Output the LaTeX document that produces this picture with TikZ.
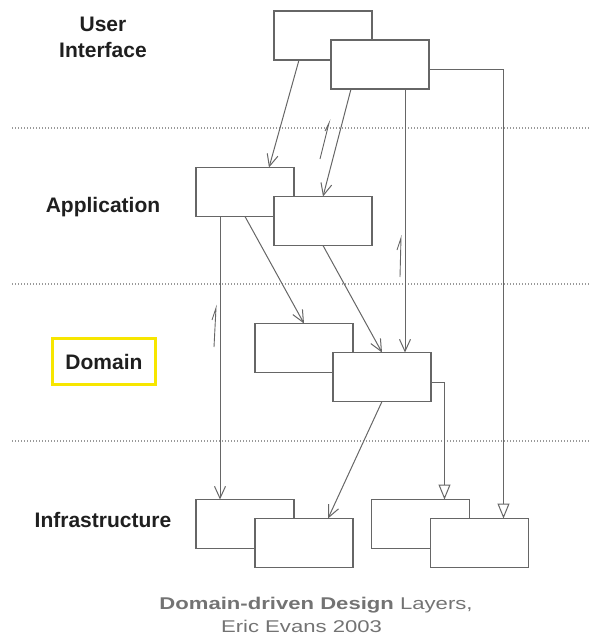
\documentclass[tikz,border=0pt]{standalone}
\usepackage{fontspec}
\setmainfont{Liberation Sans}
\usetikzlibrary{positioning,arrows.meta}
\definecolor{linegray}{HTML}{666666}
\definecolor{capgray}{HTML}{737373}
\definecolor{hiyellow}{HTML}{F7E600}

\tikzset{
  box/.style={draw=linegray, fill=white, line width=1.1pt, minimum width=98pt,
    minimum height=49pt, inner sep=0pt, outer sep=0pt},
  layer/.style={font=\fontsize{21}{26}\selectfont\bfseries, text=black!88,
    align=center, anchor=base},
  dep/.style={draw=linegray, line width=1pt, -{Straight Barb[length=12pt,width=11pt]}},
  gen/.style={draw=linegray, line width=1pt, -{Triangle[open,length=15pt,width=12pt]}},
  sep/.style={draw=gray!80, line width=1.1pt, dash pattern=on 1pt off 2pt},
  mult/.style={draw=linegray, line width=0.9pt},
  caption/.style={font=\fontsize{17}{23}\selectfont, text=capgray, anchor=base},
}

\begin{document}
\begin{tikzpicture}[x=1pt,y=-1pt]
\useasboundingbox (0,0) rectangle (604,638);

% layer separators
\foreach \yy in {128,284,441}
  \draw[sep] (12,\yy) -- (590,\yy);

% layer names
\node[layer] (uilbl) at (103,57) {User\\Interface};
\node[layer] (applbl) at (103,212) {Application};
\node[layer, anchor=center, draw=hiyellow, line width=3.5pt, minimum width=103pt,
  minimum height=46pt] (domlbl) at (104,361.5) {Domain};
\node[layer] (infralbl) at (103,527) {Infrastructure};

% boxes
\node[box] (ui1) at (323,35.5) {};
\node[box, below right=-20pt and -41pt of ui1] (ui2) {};
\node[box] (app1) at (245,192) {};
\node[box, below right=-20pt and -20pt of app1] (app2) {};
\node[box] (dom1) at (304,348) {};
\node[box, below right=-20pt and -20pt of dom1] (dom2) {};
\node[box] (infra1) at (245,524) {};
\node[box, below right=-30pt and -39pt of infra1] (infra2) {};
\node[box] (infra3) at (420.5,524) {};
\node[box, below right=-30pt and -39pt of infra3] (infra4) {};

% dependencies
\draw[dep] ([xshift=25pt]ui1.south west) -- ([xshift=73pt]app1.north west);
\draw[dep] ([xshift=20pt]ui2.south west) -- ([xshift=49pt]app2.north west);
\draw[dep] ([xshift=74pt]ui2.south west) -- ([xshift=74pt]ui2.south west |- dom2.north);
\draw[gen] ([yshift=-4.5pt]ui2.east) -| ([xshift=73pt]infra4.north west);
\draw[dep] ([xshift=24pt]app1.south west) -- ([xshift=24pt]infra1.north west);
\draw[dep] (app1.south) -- (dom1.north);
\draw[dep] (app2.south) -- (dom2.north);
\draw[dep] (dom2.south) -- ([xshift=73pt]infra2.north west);
\draw[gen] ([yshift=-5.5pt]dom2.east) -| ([xshift=73pt]infra3.north west);

% hand marks
\draw[mult] (320,159) -- (329,123) -- (325,131);
\draw[mult] (400,277) -- (401,238) -- (397,250);
\draw[mult] (214,347) -- (216,308) -- (212,320);

% caption
\node[caption] (cap1) at (316,609) {\scalebox{1.3}[1]{\textbf{Domain-driven Design} Layers,}};
\node[caption] (cap2) at (301.5,632.7) {\scalebox{1.3}[1]{Eric Evans 2003}};
\end{tikzpicture}
\end{document}
